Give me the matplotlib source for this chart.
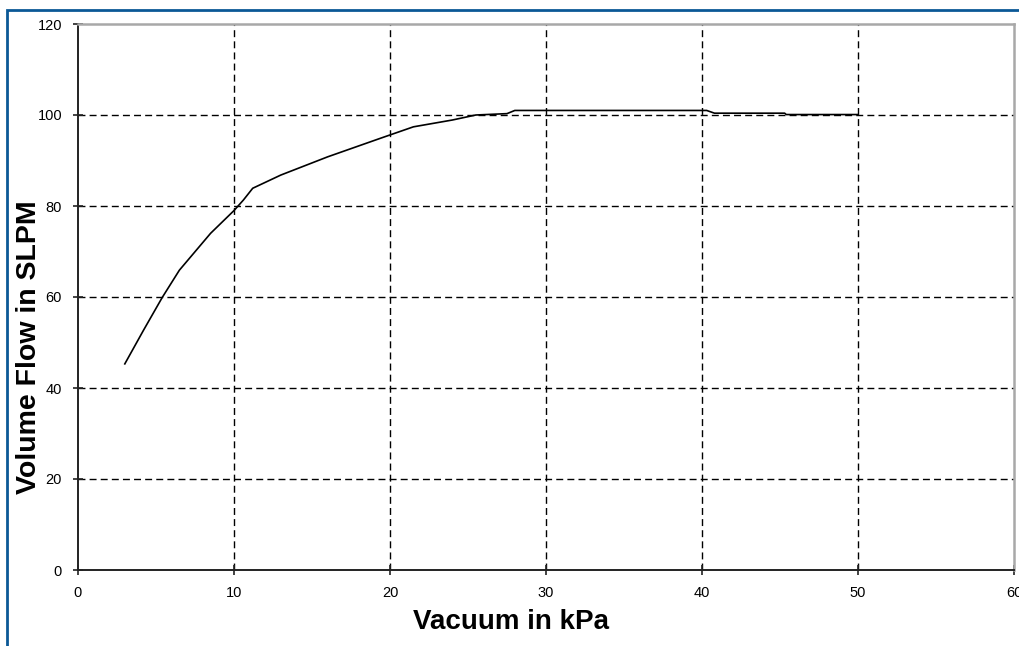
"""
plot.py
=======
Volume flow versus vacuum curve, redrawn in matplotlib.

Outputs:
  - out.png
"""

import matplotlib
matplotlib.use("Agg")
import matplotlib.pyplot as plt
from matplotlib.patches import Rectangle

# Values
vacuum_kpa = [3.0, 4.2, 5.4, 6.5, 8.5, 10.0, 10.6, 11.2, 13.0, 16.0,
              19.4, 21.5, 24.0, 25.5, 27.5, 28.0, 40.3, 40.8, 45.3, 45.4, 50.0]
flow_slpm = [45.3, 52.7, 59.9, 65.9, 74.0, 79.0, 81.3, 83.9, 86.8, 90.8,
             94.9, 97.4, 98.9, 100.0, 100.3, 101.0, 101.0, 100.4, 100.4, 100.1, 100.1]

x_ticks = [0, 10, 20, 30, 40, 50, 60]
y_ticks = [0, 20, 40, 60, 80, 100, 120]

W, H = 1019, 646


def plot_curve(path="out.png"):
    plt.rcParams["font.family"] = ["Liberation Sans", "DejaVu Sans"]
    fig = plt.figure(figsize=(W / 100, H / 100), dpi=100)
    fig.patch.set_facecolor("white")

    # plot area in pixel terms: x 78..1014, y 24..570
    ax = fig.add_axes([78 / W, 1 - 570 / H, (1014 - 78) / W, (570 - 24) / H])

    ax.set_xlim(0, 60)
    ax.set_ylim(0, 120)
    ax.set_xticks(x_ticks)
    ax.set_yticks(y_ticks)

    # dashed grid on the inner ticks only
    for xv in x_ticks[1:-1]:
        ax.axvline(xv, color="black", lw=1.0, ls=(0, (5, 3)), zorder=1)
    for yv in y_ticks[1:-1]:
        ax.axhline(yv, color="black", lw=1.0, ls=(0, (5, 3)), zorder=1)

    ax.plot(vacuum_kpa, flow_slpm, color="black", lw=1.2, zorder=3)

    for side in ("left", "bottom"):
        ax.spines[side].set_color("#222222")
        ax.spines[side].set_linewidth(1.4)
    for side in ("top", "right"):
        ax.spines[side].set_color("#a8a8a8")
        ax.spines[side].set_linewidth(1.8)

    ax.tick_params(direction="inout", length=7, width=1.2, color="#222222",
                   labelsize=10.5, pad=8)

    fig.text(511 / W, 1 - 622 / H, "Vacuum in kPa", fontsize=20,
             fontweight="bold", ha="center", va="center")
    fig.text(29 / W, 1 - 347 / H, "Volume Flow in SLPM", fontsize=20.5,
             fontweight="bold", rotation=90, ha="center", va="center")

    # blue frame around the chart (runs off the right and bottom edges)
    fig.add_artist(Rectangle((7 / W, -0.1), 1.2, (H - 10) / H + 0.1,
                             transform=fig.transFigure, fill=False,
                             edgecolor="#0b5896", lw=2.0))

    fig.savefig(path, dpi=100)
    plt.close(fig)


if __name__ == "__main__":
    plot_curve()
